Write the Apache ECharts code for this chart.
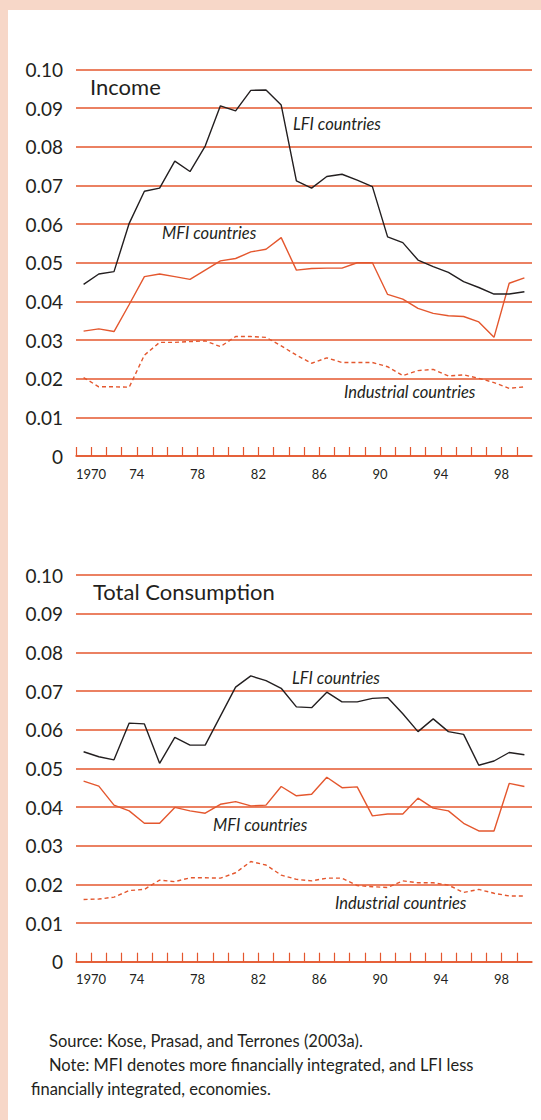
<!DOCTYPE html>
<html>
<head>
<meta charset="utf-8">
<script src="https://cdn.jsdelivr.net/npm/echarts@6/dist/echarts.min.js"></script>
<style>
  html, body { margin: 0; padding: 0; background: #fff; }
  #page { position: relative; width: 541px; height: 1120px; background: #fff;
          border-top: 10px solid #f7d7c8; border-left: 8px solid #f7d7c8; box-sizing: border-box; }
  #chart { position: absolute; left: -8px; top: -10px; width: 541px; height: 1120px; }
  .note { position: absolute; font-family: Lato, sans-serif; font-size: 16.5px; color: #231f20; line-height: 23.5px; white-space: nowrap; }
</style>
</head>
<body>
<div id="page">
  <div id="chart"></div>
  <div class="note" style="left:41px; top:1020px;">Source: Kose, Prasad, and Terrones (2003a).</div>
  <div class="note" style="left:23px; top:1044px; text-indent:18px;">Note: MFI denotes more financially integrated, and LFI less<br>financially integrated, economies.</div>
</div>
<script>
  // 年份
  var years = [];
  for (var y = 1970; y <= 1999; y++) years.push(String(y));
  var axisYears = years.concat(['2000']);

  // Income
  var incomeLFI = [0.0444, 0.0471, 0.0477, 0.0602, 0.0685, 0.0693, 0.0763, 0.0736, 0.0802, 0.0906,
    0.0893, 0.0946, 0.0947, 0.0908, 0.0712, 0.0693, 0.0723, 0.0729, 0.0714, 0.0697,
    0.0567, 0.0552, 0.0507, 0.0490, 0.0475, 0.0451, 0.0436, 0.0419, 0.0419, 0.0425];
  var incomeMFI = [0.0323, 0.0329, 0.0322, 0.0392, 0.0464, 0.0471, 0.0464, 0.0457, 0.0481, 0.0505,
    0.0511, 0.0528, 0.0535, 0.0565, 0.0481, 0.0485, 0.0486, 0.0486, 0.0500, 0.0500,
    0.0418, 0.0406, 0.0382, 0.0369, 0.0363, 0.0361, 0.0347, 0.0307, 0.0447, 0.0461];
  var incomeInd = [0.0203, 0.0179, 0.0179, 0.0178, 0.0261, 0.0294, 0.0294, 0.0296, 0.0298, 0.0283,
    0.0309, 0.0309, 0.0307, 0.0285, 0.0261, 0.0240, 0.0254, 0.0242, 0.0242, 0.0242,
    0.0231, 0.0208, 0.0221, 0.0224, 0.0207, 0.0210, 0.0201, 0.0190, 0.0175, 0.0179];

  // Total Consumption
  var consLFI = [0.0543, 0.0530, 0.0522, 0.0617, 0.0615, 0.0513, 0.0580, 0.0560, 0.0560, 0.0635,
    0.0710, 0.0739, 0.0727, 0.0707, 0.0659, 0.0657, 0.0697, 0.0672, 0.0672, 0.0681,
    0.0683, 0.0641, 0.0595, 0.0628, 0.0595, 0.0588, 0.0508, 0.0519, 0.0541, 0.0535];
  var consMFI = [0.0467, 0.0454, 0.0405, 0.0390, 0.0358, 0.0358, 0.0399, 0.0390, 0.0384, 0.0407,
    0.0414, 0.0403, 0.0405, 0.0453, 0.0429, 0.0433, 0.0477, 0.0450, 0.0452, 0.0377,
    0.0382, 0.0382, 0.0423, 0.0397, 0.0390, 0.0358, 0.0338, 0.0338, 0.0461, 0.0453];
  var consInd = [0.0161, 0.0162, 0.0167, 0.0184, 0.0187, 0.0211, 0.0207, 0.0217, 0.0217, 0.0216,
    0.0230, 0.0259, 0.0250, 0.0224, 0.0213, 0.0209, 0.0216, 0.0216, 0.0197, 0.0194,
    0.0192, 0.0209, 0.0204, 0.0204, 0.0198, 0.0179, 0.0187, 0.0177, 0.0170, 0.0170];

  var ORANGE = '#e4572e';
  var DARK = '#231f20';
  var FONT = 'Lato, sans-serif';

  var myCharts = echarts.init(document.getElementById('chart'), null, { renderer: 'svg' });

  function tickAxis(g) {
    return {
      type: 'category', gridIndex: g, data: axisYears, boundaryGap: false,
      axisLine: { lineStyle: { color: ORANGE, width: 1.5 } },
      axisTick: { inside: true, length: 9, lineStyle: { color: ORANGE, width: 1.2 },
        interval: function (i) { return i < 30; } },
      axisLabel: {
        interval: function (i) { return i % 4 === 0 && i < 30; },
        formatter: function (v) { return v === '1970' ? v : v.slice(2); },
        alignMinLabel: 'left',
        color: DARK, fontFamily: FONT, fontSize: 13, margin: 11
      },
      splitLine: { show: false }
    };
  }
  function dataAxis(g) {
    return { type: 'category', gridIndex: g, data: years, boundaryGap: true, show: false };
  }
  function yAxis(g) {
    return {
      type: 'value', gridIndex: g, min: 0, max: 0.1, interval: 0.01,
      axisLine: { show: false }, axisTick: { show: false },
      axisLabel: {
        formatter: function (v) { return v === 0 ? '0' : v.toFixed(2); },
        color: DARK, fontFamily: FONT, fontSize: 19, margin: 13
      },
      splitLine: { lineStyle: { color: ORANGE, width: 1.5 } }
    };
  }
  function line(xi, yi, data, color, dashed) {
    return {
      type: 'line', xAxisIndex: xi, yAxisIndex: yi, data: data, symbol: 'none',
      lineStyle: { color: color, width: 1.4, type: dashed ? [4, 3] : 'solid' },
      silent: true, animation: false
    };
  }
  function label(x, y, text, size, italic) {
    return {
      type: 'text', left: x, top: y,
      style: { text: text, fill: DARK, font: (italic ? 'italic ' : '') + size + 'px ' + FONT }
    };
  }

  var option = {
    animation: false,
    grid: [
      { left: 76, right: 9, top: 69.5, height: 386.5 },
      { left: 76, right: 9, top: 575, height: 386.7 }
    ],
    xAxis: [tickAxis(0), dataAxis(0), tickAxis(1), dataAxis(1)],
    yAxis: [yAxis(0), yAxis(1)],
    series: [
      line(1, 0, incomeInd, ORANGE, true),
      line(1, 0, incomeMFI, ORANGE, false),
      line(1, 0, incomeLFI, DARK, false),
      line(3, 1, consInd, ORANGE, true),
      line(3, 1, consMFI, ORANGE, false),
      line(3, 1, consLFI, DARK, false)
    ],
    graphic: [
      label(90, 75, 'Income', 22, false),
      label(293, 115, 'LFI countries', 16.5, true),
      label(162, 224, 'MFI countries', 16.5, true),
      label(344, 383, 'Industrial countries', 16.5, true),
      label(93, 580, 'Total Consumption', 22, false),
      label(292, 669, 'LFI countries', 16.5, true),
      label(213, 816, 'MFI countries', 16.5, true),
      label(335, 894, 'Industrial countries', 16.5, true)
    ]
  };
  myCharts.setOption(option);
</script>
</body>
</html>
